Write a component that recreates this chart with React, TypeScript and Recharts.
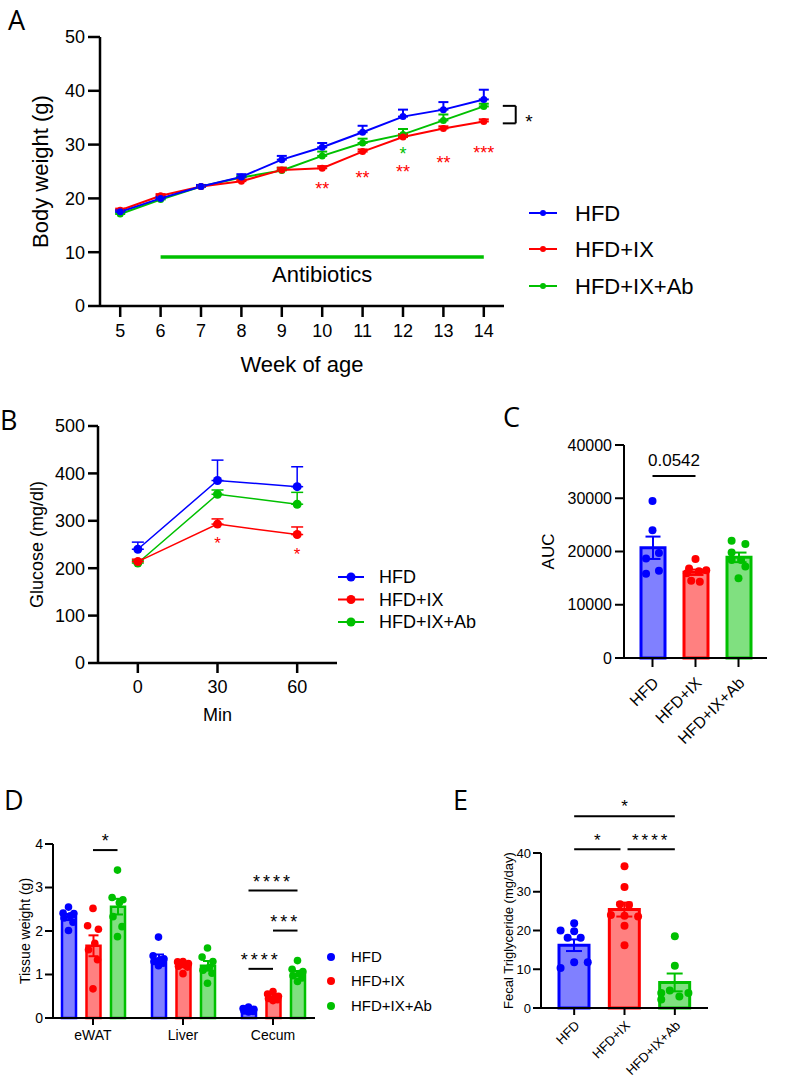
import React from "react";
import {
  LineChart,
  Line,
  XAxis,
  YAxis,
  ErrorBar,
  ReferenceLine,
  ReferenceDot,
  Legend,
  ComposedChart,
  Bar,
  Cell,
  Scatter,
} from "recharts";

const FONT = '"Liberation Sans", Arial, Helvetica, sans-serif';
const GROUPS = ["HFD", "HFD+IX", "HFD+IX+Ab"];
const COLORS = ["#0000ff", "#ff0000", "#00c000"];
const FILLS = ["#8080ff", "#ff8080", "#80e080"];

// A - body weight (g) by week of age
const WEEKS = [5, 6, 7, 8, 9, 10, 11, 12, 13, 14];
const BW_HFD = [17.5, 20.0, 22.2, 24.0, 27.2, 29.5, 32.3, 35.2, 36.5, 38.4];
const BW_HFD_SEM = [0.3, 0.3, 0.3, 0.5, 0.7, 0.8, 1.2, 1.3, 1.4, 1.8];
const BW_IX = [17.8, 20.5, 22.2, 23.2, 25.3, 25.6, 28.7, 31.4, 33.0, 34.3];
const BW_IX_SEM = [0.3, 0.3, 0.2, 0.3, 0.4, 0.4, 0.4, 0.5, 0.4, 0.4];
const BW_AB = [17.1, 19.8, 22.2, 23.9, 25.2, 27.9, 30.3, 31.9, 34.5, 37.1];
const BW_AB_SEM = [0.3, 0.3, 0.2, 0.3, 0.5, 0.8, 0.8, 1.0, 1.1, 0.5];
const A_STARS = [
  { week: 10, y: 22.5, text: "**", color: COLORS[1] },
  { week: 11, y: 24.5, text: "**", color: COLORS[1] },
  { week: 12, y: 25.7, text: "**", color: COLORS[1] },
  { week: 12, y: 29.0, text: "*", color: COLORS[2] },
  { week: 13, y: 27.3, text: "**", color: COLORS[1] },
  { week: 14, y: 29.2, text: "***", color: COLORS[1] },
];

// B - glucose (mg/dl)
const MINUTES = [0, 30, 60];
const GLU_HFD = [240, 385, 372];
const GLU_HFD_SEM = [15, 43, 42];
const GLU_IX = [214, 293, 271];
const GLU_IX_SEM = [5, 11, 16];
const GLU_AB = [211, 356, 335];
const GLU_AB_SEM = [5, 9, 25];
const B_STARS = [
  { min: 30, y: 260 },
  { min: 60, y: 237 },
];

// C - AUC
const AUC_MEAN = [20700, 16100, 18900];
const AUC_SEM = [2100, 500, 900];
const AUC_POINTS = [
  [29500, 24000, 19700, 18700, 16400, 15800],
  [18600, 16800, 16500, 16300, 15900, 14500, 14300],
  [22000, 21400, 19800, 18400, 18400, 17200, 15000],
];
const AUC_JITTER = [
  [0, 0, 0.15, -0.15, 0.15, -0.15],
  [0, -0.15, 0.25, 0.08, -0.2, -0.1, 0.1],
  [-0.16, 0.16, -0.16, 0.06, -0.16, 0.16, 0],
];

// D - tissue weight (g)
const TISSUES = ["eWAT", "Liver", "Cecum"];
const TW_MEAN = [
  [2.32, 1.36, 0.19],
  [1.66, 1.22, 0.47],
  [2.56, 1.2, 1.02],
];
const TW_SEM = [
  [0.07, 0.1, 0.02],
  [0.24, 0.04, 0.03],
  [0.18, 0.11, 0.06],
];
const TW_POINTS = [
  [
    [2.55, 2.41, 2.4, 2.35, 2.3, 2.2, 2.01],
    [1.86, 1.43, 1.36, 1.34, 1.3, 1.26, 1.2],
    [0.25, 0.22, 0.2, 0.18, 0.16, 0.15, 0.14],
  ],
  [
    [2.52, 2.12, 2.04, 1.72, 1.57, 1.34, 0.67],
    [1.3, 1.29, 1.25, 1.22, 1.19, 1.17, 1.02],
    [0.61, 0.55, 0.5, 0.47, 0.45, 0.42, 0.4],
  ],
  [
    [3.4, 2.77, 2.72, 2.65, 2.33, 2.1, 1.87],
    [1.61, 1.4, 1.3, 1.16, 1.1, 1.03, 0.8],
    [1.32, 1.12, 1.07, 1.02, 0.97, 0.92, 0.84],
  ],
];
const TW_JITTER = [0, -0.06, 0.06, 0.02, -0.05, 0.05, 0];

// E - fecal triglyceride (mg/day)
const TG_MEAN = [16.2, 25.4, 6.6];
const TG_SEM = [1.5, 1.8, 2.3];
const TG_POINTS = [
  [21.9, 20.0, 19.8, 18.1, 18.1, 11.8, 11.8, 10.3],
  [36.6, 31.2, 26.8, 26.6, 24.0, 23.8, 23.6, 21.2, 16.2],
  [18.5, 10.9, 4.5, 3.9, 3.9, 3.0, 2.2],
];
const TG_JITTER = [
  [0, -0.27, 0, -0.13, 0.13, 0, 0.27, -0.27],
  [0, 0, -0.09, 0.09, -0.27, 0, 0.27, 0, 0],
  [0, 0, -0.1, -0.27, 0.27, 0.09, -0.27],
];

const AX = { stroke: "#000", strokeWidth: 2.5 };
const AX2 = { stroke: "#000", strokeWidth: 2 };

const dotShape = (r: number, color: string) => (p: any) =>
  <circle cx={p.cx} cy={p.cy} r={r} fill={color} />;

const textShape = (text: string, color: string, fs: number, shift: number) => (p: any) =>
  (
    <text x={p.cx} y={p.cy + fs * shift} textAnchor="middle" fontSize={fs} fill={color}>
      {text}
    </text>
  );

function VLabel(props: any) {
  const { viewBox, text, dx, fs } = props;
  const x = viewBox.x + dx;
  const y = viewBox.y + viewBox.height / 2;
  return (
    <text x={x} y={y} dy={fs * 0.36} transform={`rotate(-90, ${x}, ${y})`} textAnchor="middle" fontSize={fs} fill="#000">
      {text}
    </text>
  );
}

function RotTick(props: any) {
  const { x, y, payload, fs, shift } = props;
  const px = x + shift;
  return (
    <text x={px} y={y} dy={fs * 0.36} transform={`rotate(-45, ${px}, ${y})`} textAnchor="end" fontSize={fs} fill="#000">
      {payload.value}
    </text>
  );
}

function SeriesLegend(props: any) {
  const { width, height, lineX, lineLen, dotR, textX, rows, fs, showLine } = props;
  return (
    <svg width={width} height={height} style={{ display: "block", pointerEvents: "none" }}>
      {GROUPS.map((g, i) => (
        <g key={g}>
          {showLine && (
            <line x1={lineX} x2={lineX + lineLen} y1={rows[i]} y2={rows[i]} stroke={COLORS[i]} strokeWidth={2} />
          )}
          <circle cx={lineX + lineLen / 2} cy={rows[i]} r={dotR} fill={COLORS[i]} />
          <text x={textX} y={rows[i] + fs * 0.36} fontSize={fs} fill="#000">
            {g}
          </text>
        </g>
      ))}
    </svg>
  );
}

const sigLine = (key: string, x1: number, x2: number, y: number, text: string, offset: number, fs: number, spacing = 0) => (
  <ReferenceLine
    key={key}
    xAxisId="pts"
    segment={[{ x: x1, y }, { x: x2, y }]}
    stroke="#000"
    strokeWidth={2}
    ifOverflow="visible"
    label={{ value: text, position: "top", offset, fill: "#000", fontSize: fs, style: { letterSpacing: spacing } }}
  />
);

function PanelA() {
  const rows = WEEKS.map((week, i) => ({
    week,
    hfd: BW_HFD[i],
    hfdErr: [0, BW_HFD_SEM[i]],
    ix: BW_IX[i],
    ixErr: [0, BW_IX_SEM[i]],
    ab: BW_AB[i],
    abErr: [0, BW_AB_SEM[i]],
  }));
  const series = [
    ["ab", "abErr", 2],
    ["ix", "ixErr", 1],
    ["hfd", "hfdErr", 0],
  ] as const;
  return (
    <div style={{ position: "absolute", left: 0, top: 0 }}>
      <LineChart width={787} height={400} data={rows} margin={{ top: 37, right: 283, bottom: 28, left: 0 }}>
        <XAxis
          dataKey="week"
          type="number"
          domain={[4.5, 14.5]}
          ticks={WEEKS}
          interval={0}
          height={66}
          tickSize={11}
          tickMargin={7}
          axisLine={AX}
          tickLine={AX}
          tick={{ fill: "#000", fontSize: 18 }}
          label={{ value: "Week of age", position: "insideBottom", offset: 0, fill: "#000", fontSize: 22 }}
        />
        <YAxis
          domain={[0, 50]}
          ticks={[0, 10, 20, 30, 40, 50]}
          width={100}
          tickSize={12}
          tickMargin={3}
          axisLine={AX}
          tickLine={AX}
          tick={{ fill: "#000", fontSize: 18 }}
          label={<VLabel text="Body weight (g)" dx={40} fs={22} />}
        />
        <ReferenceLine segment={[{ x: 6, y: 9.1 }, { x: 14, y: 9.1 }]} stroke={COLORS[2]} strokeWidth={3.5} />
        <ReferenceDot x={10} y={5.95} r={0} shape={textShape("Antibiotics", "#000", 22, 0.36)} />
        {series.map(([k, e, ci]) => (
          <Line
            key={k}
            dataKey={k}
            stroke={COLORS[ci]}
            strokeWidth={2}
            dot={{ r: 3.5, fill: COLORS[ci], stroke: COLORS[ci], strokeWidth: 0 }}
            activeDot={false}
            isAnimationActive={false}
          >
            <ErrorBar dataKey={e} width={5} stroke={COLORS[ci]} strokeWidth={2} direction="y" />
          </Line>
        ))}
        {A_STARS.map((s, i) => (
          <ReferenceDot key={i} x={s.week} y={s.y} r={0} shape={textShape(s.text, s.color, 18, 0.57)} />
        ))}
        <ReferenceLine segment={[{ x: 14.47, y: 37.2 }, { x: 14.79, y: 37.2 }]} stroke="#000" strokeWidth={2} ifOverflow="visible" />
        <ReferenceLine segment={[{ x: 14.79, y: 37.2 }, { x: 14.79, y: 33.95 }]} stroke="#000" strokeWidth={2} ifOverflow="visible" />
        <ReferenceLine segment={[{ x: 14.47, y: 33.95 }, { x: 14.79, y: 33.95 }]} stroke="#000" strokeWidth={2} ifOverflow="visible" />
        <ReferenceDot x={15.12} y={35.1} r={0} ifOverflow="visible" shape={textShape("*", "#000", 19, 0.57)} />
        <Legend
          layout="horizontal"
          verticalAlign="middle"
          align="center"
          wrapperStyle={{ left: 0, top: 0, width: 787, height: 400 }}
          content={() => (
            <SeriesLegend width={787} height={400} lineX={529} lineLen={28} dotR={3} textX={575} rows={[213, 249, 286]} fs={22} showLine />
          )}
        />
      </LineChart>
    </div>
  );
}

function PanelB() {
  const rows = MINUTES.map((min, i) => ({
    min,
    hfd: GLU_HFD[i],
    hfdErr: [0, GLU_HFD_SEM[i]],
    ix: GLU_IX[i],
    ixErr: [0, GLU_IX_SEM[i]],
    ab: GLU_AB[i],
    abErr: [0, GLU_AB_SEM[i]],
  }));
  const series = [
    ["ab", "abErr", 2],
    ["ix", "ixErr", 1],
    ["hfd", "hfdErr", 0],
  ] as const;
  return (
    <div style={{ position: "absolute", left: 0, top: 380 }}>
      <LineChart width={480} height={350} data={rows} margin={{ top: 46, right: 143, bottom: 9, left: 0 }}>
        <XAxis
          dataKey="min"
          type="number"
          domain={[-15, 75]}
          ticks={MINUTES}
          interval={0}
          height={58}
          tickSize={10}
          tickMargin={7}
          axisLine={AX}
          tickLine={AX}
          tick={{ fill: "#000", fontSize: 18 }}
          label={{ value: "Min", position: "insideBottom", offset: 0, fill: "#000", fontSize: 18 }}
        />
        <YAxis
          domain={[0, 500]}
          ticks={[0, 100, 200, 300, 400, 500]}
          width={98}
          tickSize={10}
          tickMargin={3}
          axisLine={AX}
          tickLine={AX}
          tick={{ fill: "#000", fontSize: 18 }}
          label={<VLabel text="Glucose (mg/dl)" dx={37} fs={18} />}
        />
        {series.map(([k, e, ci]) => (
          <Line
            key={k}
            dataKey={k}
            stroke={COLORS[ci]}
            strokeWidth={1.5}
            dot={{ r: 4.5, fill: COLORS[ci], stroke: COLORS[ci], strokeWidth: 0 }}
            activeDot={false}
            isAnimationActive={false}
          >
            <ErrorBar dataKey={e} width={6} stroke={COLORS[ci]} strokeWidth={1.5} direction="y" />
          </Line>
        ))}
        {B_STARS.map((s, i) => (
          <ReferenceDot key={i} x={s.min} y={s.y} r={0} shape={textShape("*", COLORS[1], 17, 0.57)} />
        ))}
        <Legend
          layout="horizontal"
          verticalAlign="middle"
          align="center"
          wrapperStyle={{ left: 0, top: 0, width: 480, height: 350 }}
          content={() => (
            <SeriesLegend width={480} height={350} lineX={338} lineLen={26} dotR={4.5} textX={379} rows={[197, 219.5, 242]} fs={18} showLine />
          )}
        />
      </LineChart>
    </div>
  );
}

function PanelC() {
  const rows = GROUPS.map((name, i) => ({
    name,
    mean: AUC_MEAN[i],
    ["err" + i]: AUC_SEM[i],
  }));
  return (
    <div style={{ position: "absolute", left: 480, top: 380 }}>
      <ComposedChart width={307} height={390} data={rows} margin={{ top: 65, right: 20, bottom: 0, left: 0 }}>
        <XAxis
          dataKey="name"
          padding={{ left: 7, right: 7 }}
          interval={0}
          height={112}
          tickSize={9}
          tickMargin={13}
          axisLine={AX2}
          tickLine={AX2}
          tick={<RotTick fs={16} shift={3} />}
        />
        <XAxis xAxisId="pts" type="number" dataKey="x" domain={[-0.5, 2.5]} padding={{ left: 7, right: 7 }} allowDataOverflow hide />
        <YAxis
          domain={[0, 40000]}
          ticks={[0, 10000, 20000, 30000, 40000]}
          width={144}
          tickSize={9}
          tickMargin={3}
          axisLine={AX2}
          tickLine={AX2}
          tick={{ fill: "#000", fontSize: 16 }}
          label={<VLabel text="AUC" dx={68} fs={17} />}
        />
        <Bar dataKey="mean" barSize={24} strokeWidth={3} isAnimationActive={false}>
          {rows.map((r, i) => (
            <Cell key={r.name} fill={FILLS[i]} stroke={COLORS[i]} />
          ))}
          {GROUPS.map((g, i) => (
            <ErrorBar key={g} dataKey={"err" + i} width={7.5} stroke={COLORS[i]} strokeWidth={2} direction="y" />
          ))}
        </Bar>
        {GROUPS.map((g, gi) => (
          <Scatter
            key={g}
            xAxisId="pts"
            dataKey="y"
            data={AUC_POINTS[gi].map((v, j) => ({ x: gi + AUC_JITTER[gi][j], y: v }))}
            fill={COLORS[gi]}
            shape={dotShape(4, COLORS[gi])}
            isAnimationActive={false}
          />
        ))}
        {sigLine("c1", 0, 1, 34200, "0.0542", 10, 17)}
      </ComposedChart>
    </div>
  );
}

const D_BAR = 14;
const D_GAP = 10.5;
const D_BAND = 90;
const D_STEP = (D_BAR + D_GAP) / D_BAND;

function PanelD() {
  const rows = TISSUES.map((name, t) => ({
    name,
    hfd: TW_MEAN[0][t],
    ix: TW_MEAN[1][t],
    ab: TW_MEAN[2][t],
    hfdErr: TW_SEM[0][t],
    ixErr: TW_SEM[1][t],
    abErr: TW_SEM[2][t],
  }));
  const keys = ["hfd", "ix", "ab"];
  return (
    <div style={{ position: "absolute", left: 0, top: 780 }}>
      <ComposedChart width={460} height={302} data={rows} barGap={D_GAP} margin={{ top: 64, right: 145, bottom: 24, left: 0 }}>
        <XAxis
          dataKey="name"
          padding={{ left: -5, right: -3 }}
          interval={0}
          height={40}
          tickSize={7}
          tickMargin={5}
          axisLine={AX2}
          tickLine={AX2}
          tick={{ fill: "#000", fontSize: 14 }}
        />
        <XAxis xAxisId="pts" type="number" dataKey="x" domain={[-0.5, 2.5]} padding={{ left: -5, right: -3 }} allowDataOverflow hide />
        <YAxis
          domain={[0, 4]}
          ticks={[0, 1, 2, 3, 4]}
          width={53}
          tickSize={8}
          tickMargin={2}
          axisLine={AX2}
          tickLine={AX2}
          tick={{ fill: "#000", fontSize: 14 }}
          label={<VLabel text="Tissue weight (g)" dx={25} fs={14} />}
        />
        {keys.map((k, i) => (
          <Bar key={k} dataKey={k} barSize={D_BAR} fill={FILLS[i]} stroke={COLORS[i]} strokeWidth={2.5} isAnimationActive={false}>
            <ErrorBar dataKey={k + "Err"} width={5} stroke={COLORS[i]} strokeWidth={2} direction="y" />
          </Bar>
        ))}
        {keys.map((k, s) => (
          <Scatter
            key={k}
            xAxisId="pts"
            dataKey="y"
            data={TW_POINTS[s].flatMap((vals, t) =>
              vals.map((v, j) => ({ x: t + (s - 1) * D_STEP + TW_JITTER[j], y: v }))
            )}
            fill={COLORS[s]}
            shape={dotShape(3.8, COLORS[s])}
            isAnimationActive={false}
          />
        ))}
        {sigLine("d1", 0, D_STEP, 3.86, "*", 3, 18)}
        {sigLine("d2", 2 - D_STEP, 2 + D_STEP, 2.93, "****", 3, 18, 3)}
        {sigLine("d3", 2, 2 + D_STEP, 2.01, "***", 3, 18, 3)}
        {sigLine("d4", 2 - D_STEP, 2, 1.13, "****", 3, 18, 3)}
        <Legend
          layout="horizontal"
          verticalAlign="middle"
          align="center"
          wrapperStyle={{ left: 0, top: 0, width: 460, height: 302 }}
          content={() => (
            <SeriesLegend width={460} height={302} lineX={331} lineLen={0} dotR={4} textX={351} rows={[177, 201, 226]} fs={15} showLine={false} />
          )}
        />
      </ComposedChart>
    </div>
  );
}

function PanelE() {
  const rows = GROUPS.map((name, i) => ({
    name,
    mean: TG_MEAN[i],
    ["err" + i]: TG_SEM[i],
  }));
  return (
    <div style={{ position: "absolute", left: 420, top: 780 }}>
      <ComposedChart width={367} height={302} data={rows} margin={{ top: 73, right: 79, bottom: 0, left: 0 }}>
        <XAxis
          dataKey="name"
          padding={{ left: 8, right: 8 }}
          interval={0}
          height={74}
          tickSize={7}
          tickMargin={8}
          axisLine={AX2}
          tickLine={AX2}
          tick={<RotTick fs={13} shift={3} />}
        />
        <XAxis xAxisId="pts" type="number" dataKey="x" domain={[-0.5, 2.5]} padding={{ left: 8, right: 8 }} allowDataOverflow hide />
        <YAxis
          domain={[0, 40]}
          ticks={[0, 10, 20, 30, 40]}
          width={121}
          tickSize={8}
          tickMargin={2}
          axisLine={AX2}
          tickLine={AX2}
          tick={{ fill: "#000", fontSize: 13 }}
          label={<VLabel text="Fecal Triglyceride (mg/day)" dx={88} fs={13} />}
        />
        <Bar dataKey="mean" barSize={30} strokeWidth={3} isAnimationActive={false}>
          {rows.map((r, i) => (
            <Cell key={r.name} fill={FILLS[i]} stroke={COLORS[i]} />
          ))}
          {GROUPS.map((g, i) => (
            <ErrorBar key={g} dataKey={"err" + i} width={8} stroke={COLORS[i]} strokeWidth={2} direction="y" />
          ))}
        </Bar>
        {GROUPS.map((g, gi) => (
          <Scatter
            key={g}
            xAxisId="pts"
            dataKey="y"
            data={TG_POINTS[gi].map((v, j) => ({ x: gi + TG_JITTER[gi][j], y: v }))}
            fill={COLORS[gi]}
            shape={dotShape(4, COLORS[gi])}
            isAnimationActive={false}
          />
        ))}
        {sigLine("e1", 0, 2, 49.5, "*", 4, 17)}
        {sigLine("e2", 0, 0.92, 41.0, "*", 3, 17)}
        {sigLine("e3", 1.06, 2, 41.0, "****", 3, 17, 3)}
      </ComposedChart>
    </div>
  );
}

const PANEL_LETTERS = [
  { t: "A", x: 8, y: 30 },
  { t: "B", x: 0, y: 430 },
  { t: "C", x: 503, y: 427 },
  { t: "D", x: 4, y: 810 },
  { t: "E", x: 453, y: 810 },
];

export default function App() {
  return (
    <div
      style={{
        position: "absolute",
        left: 0,
        top: 0,
        width: 787,
        height: 1082,
        background: "#fff",
        fontFamily: FONT,
        overflow: "hidden",
      }}
    >
      <PanelA />
      <PanelB />
      <PanelC />
      <PanelD />
      <PanelE />
      <svg width={787} height={1082} style={{ position: "absolute", left: 0, top: 0, pointerEvents: "none" }}>
        {PANEL_LETTERS.map((p) => (
          <text key={p.t} x={p.x} y={p.y} fontSize={27} fontFamily='"Open Sans", "Noto Sans", sans-serif' fill="#000">
            {p.t}
          </text>
        ))}
      </svg>
    </div>
  );
}
